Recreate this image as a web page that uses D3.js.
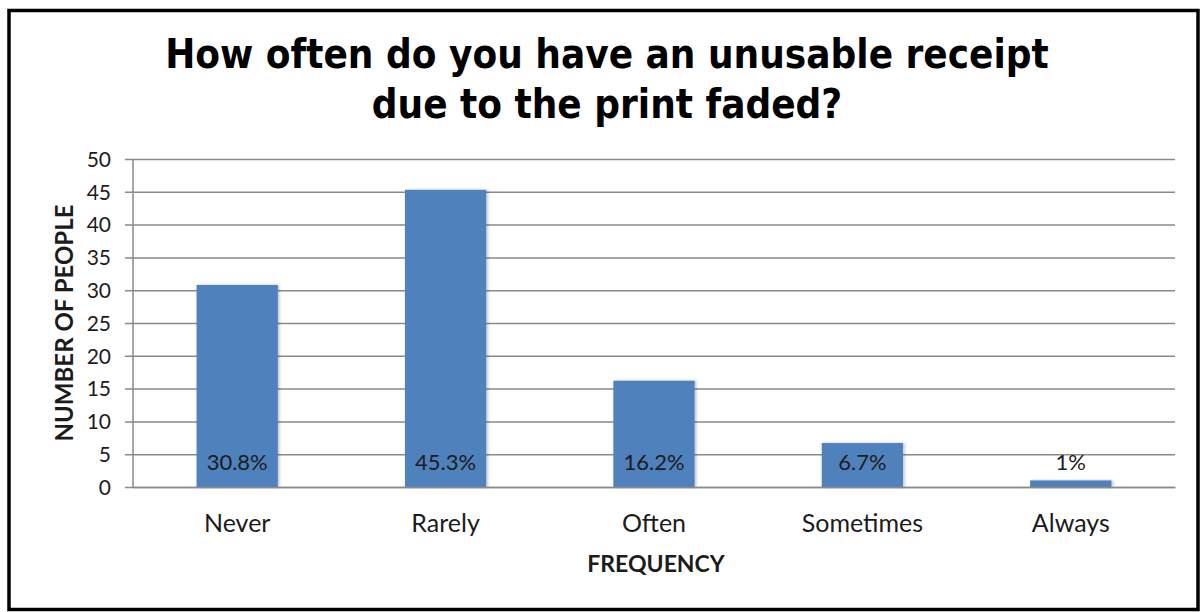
<!DOCTYPE html>
<html>
<head>
<meta charset="utf-8">
<script src="https://cdn.jsdelivr.net/npm/d3@7"></script>
<style>
  html, body { margin: 0; padding: 0; background: #fff; }
  svg { display: block; }
</style>
</head>
<body>
<svg id="chart" width="1203" height="612"></svg>
<script>
// Survey answers: how often a receipt is unusable because the print faded
const categories = ["Never", "Rarely", "Often", "Sometimes", "Always"];
const people = [30.8, 45.3, 16.2, 6.7, 1];
const percentLabels = ["30.8%", "45.3%", "16.2%", "6.7%", "1%"];
const yTicks = [0, 5, 10, 15, 20, 25, 30, 35, 40, 45, 50];
const titleLines = ["How often do you have an unusable receipt", "due to the print faded?"];

const svg = d3.select("#chart");
const W = 1203, H = 612;
const margin = { left: 133, right: 28, top: 159, bottom: 125 };
const plotW = W - margin.left - margin.right;
const plotH = H - margin.top - margin.bottom;

const bodyFont = "Lato, 'Open Sans', 'Noto Sans', sans-serif";
const textColor = "#1c1c1c";

// frame
svg.append("rect")
  .attr("x", 9).attr("y", 10.5)
  .attr("width", 1189).attr("height", 599)
  .attr("fill", "#fff").attr("stroke", "#000").attr("stroke-width", 3.5);

// title
svg.append("g").selectAll("text")
  .data(titleLines)
  .join("text")
  .attr("x", 607)
  .attr("y", (d, i) => 68 + i * 50)
  .attr("text-anchor", "middle")
  .attr("font-family", "'DejaVu Sans Condensed', 'DejaVu Sans', Verdana, sans-serif")
  .attr("font-stretch", "condensed")
  .attr("font-weight", "bold")
  .attr("font-size", 40)
  .attr("fill", "#000")
  .text(d => d);

const x = d3.scaleBand().domain(categories).range([0, plotW]).padding(0);
const y = d3.scaleLinear().domain([0, 50]).range([plotH, 0]);
const barW = x.bandwidth() * 0.39;

const g = svg.append("g").attr("transform", `translate(${margin.left},${margin.top})`);

// gridlines with left tick marks
const yAxis = d3.axisLeft(y).tickValues(yTicks).tickSize(-plotW).tickPadding(22).tickSizeOuter(0);
const yg = g.append("g").call(yAxis);
yg.select(".domain").remove();
yg.selectAll(".tick line")
  .attr("x1", -8)
  .attr("stroke", "#8a8a8a").attr("stroke-width", 1.5);
yg.selectAll(".tick text")
  .attr("font-family", bodyFont).attr("font-size", 21).attr("fill", textColor)
  .attr("dy", "0.35em");

// vertical axis line
g.append("line")
  .attr("x1", 0).attr("x2", 0).attr("y1", 0).attr("y2", plotH)
  .attr("stroke", "#8a8a8a").attr("stroke-width", 1.5);

// bar shadows
const defs = svg.append("defs");
const f = defs.append("filter").attr("id", "shadow").attr("x", "-10%").attr("y", "-10%").attr("width", "130%").attr("height", "130%");
f.append("feDropShadow").attr("dx", 1.5).attr("dy", 0).attr("stdDeviation", 1.5).attr("flood-color", "#000").attr("flood-opacity", 0.25);

g.append("g").selectAll("rect")
  .data(people)
  .join("rect")
  .attr("x", (d, i) => x(categories[i]) + (x.bandwidth() - barW) / 2)
  .attr("y", d => y(d))
  .attr("width", barW)
  .attr("height", d => y(0) - y(d))
  .attr("fill", "#4f81bd")
  .attr("filter", "url(#shadow)");

// value labels near the base of each bar
g.append("g").selectAll("text")
  .data(percentLabels)
  .join("text")
  .attr("x", (d, i) => x(categories[i]) + x.bandwidth() / 2)
  .attr("y", y(3.8))
  .attr("dy", "0.35em")
  .attr("text-anchor", "middle")
  .attr("font-family", bodyFont).attr("font-size", 22).attr("fill", textColor)
  .text(d => d);

// category axis
const xg = g.append("g").attr("transform", `translate(0,${plotH})`)
  .call(d3.axisBottom(x).tickSize(0).tickPadding(27));
xg.select(".domain").attr("stroke", "#8a8a8a").attr("stroke-width", 1.5);
xg.selectAll(".tick text")
  .attr("font-family", bodyFont).attr("font-size", 25).attr("fill", textColor);

// axis titles
svg.append("text")
  .attr("x", margin.left + plotW / 2 + 2).attr("y", 572)
  .attr("text-anchor", "middle")
  .attr("font-family", bodyFont).attr("font-weight", "bold")
  .attr("font-size", 23).attr("fill", textColor)
  .text("FREQUENCY");

svg.append("text")
  .attr("transform", `translate(73,${margin.top + plotH / 2}) rotate(-90)`)
  .attr("text-anchor", "middle")
  .attr("font-family", bodyFont).attr("font-weight", "bold")
  .attr("font-size", 24).attr("fill", textColor)
  .text("NUMBER OF PEOPLE");
</script>
</body>
</html>
